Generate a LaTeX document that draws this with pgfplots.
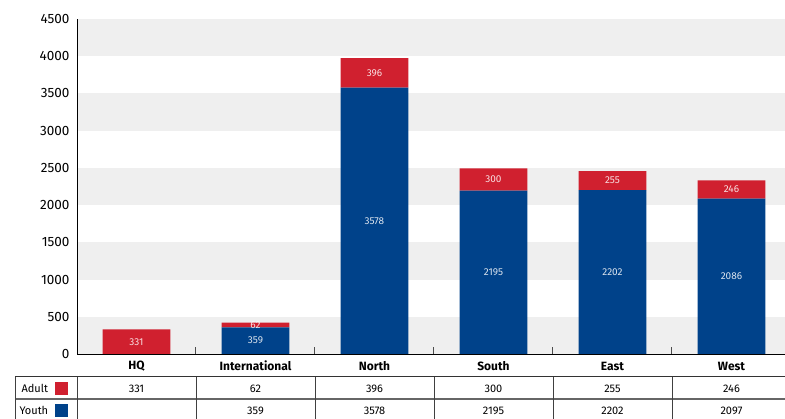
\documentclass[border=0pt]{standalone}
\usepackage{pgfplots}
\pgfplotsset{compat=1.18}
\usepackage{fontspec}
\setmainfont{Fira Sans}
\definecolor{cred}{HTML}{D0202F}
\definecolor{cblue}{HTML}{00428A}
\definecolor{band}{HTML}{EFEFEF}
\pgfplotsset{geom/.style={
  at={(77pt,64pt)}, anchor=south west,
  scale only axis, width=708pt, height=335pt,
  xmin=-0.5, xmax=5.45, ymin=0, ymax=4500}}
\begin{document}
\begin{tikzpicture}[x=1pt,y=1pt]
\useasboundingbox (0,0) rectangle (785,418);
\clip (0,0) rectangle (785,418);
% background bands (every other 500 step)
\foreach \k in {0,2,4,6,8}
  \fill[band] (77,{64+\k*37.2222}) rectangle (785,{64+(\k+1)*37.2222});
\begin{axis}[
  geom,
  axis x line=bottom, axis y line=left,
  axis line style={-, black, line width=1pt},
  axis on top,
  ytick={0,500,...,4500},
  ytick style={draw=none},
  yticklabel style={font=\fontsize{13.5}{14}\selectfont, xshift=-4pt},
  /pgf/number format/assume math mode=true,
  /pgf/number format/set thousands separator={},
  xtick={0.5,1.5,2.5,3.5,4.5},
  xticklabels={},
  tick align=inside,
  major tick length=7pt,
  xtick style={black!70, line width=1pt},
  ybar stacked, bar width=0.57,
  clip=false,
]
% Youth
\addplot[fill=cblue, draw=none] coordinates {
 (0,0) (1,359) (2,3578) (3,2195) (4,2202) (5,2086)};
% Adult
\addplot[fill=cred, draw=none] coordinates {
 (0,331) (1,62) (2,396) (3,300) (4,255) (5,246)};
\end{axis}
% value labels at the middle of each segment
\begin{axis}[
  geom, hide axis, clip=false,
  point meta=explicit symbolic,
  nodes near coords,
  nodes near coords style={anchor=center, text=white, text opacity=0.85,
     font=\fontsize{10}{11}\selectfont, inner sep=0pt},
]
\addplot[draw=none, mark=none] coordinates {
 (1,179.5) [359] (2,1789) [3578] (3,1097.5) [2195] (4,1101) [2202] (5,1043) [2086]};
\addplot[draw=none, mark=none] coordinates {
 (0,165.5) [331] (1,390) [62] (2,3776) [396] (3,2345) [300] (4,2329.5) [255] (5,2209) [246]};
\end{axis}
% category labels
\foreach \n [count=\i from 0] in {HQ,International,North,South,East,West}
  \node[font=\bfseries\fontsize{12}{13}\selectfont] at (136.5+119*\i,52) {\n};
% table
\draw[black!80, line width=1pt] (15,41) -- (785,41);
\draw[black!60, line width=1pt] (15,19) -- (785,19);
\foreach \xx in {15,77,196,315,434,553,672}
  \draw[black!75, line width=1pt] (\xx,-1) -- (\xx,41);
\node[font=\fontsize{11}{12}\selectfont, anchor=west] at (18,30) {Adult};
\node[font=\fontsize{11}{12}\selectfont, anchor=west] at (16,8) {Youth};
\fill[cred] (55,23) rectangle (68,36);
\fill[cblue] (55,1) rectangle (68,14);
\foreach \v [count=\i from 0] in {331,62,396,300,255,246}
  \node[font=\fontsize{11}{12}\selectfont] at (136.5+119*\i,29) {\v};
\foreach \v [count=\i from 1] in {359,3578,2195,2202,2097}
  \node[font=\fontsize{11}{12}\selectfont] at (136.5+119*\i,7) {\v};
\end{tikzpicture}
\end{document}
